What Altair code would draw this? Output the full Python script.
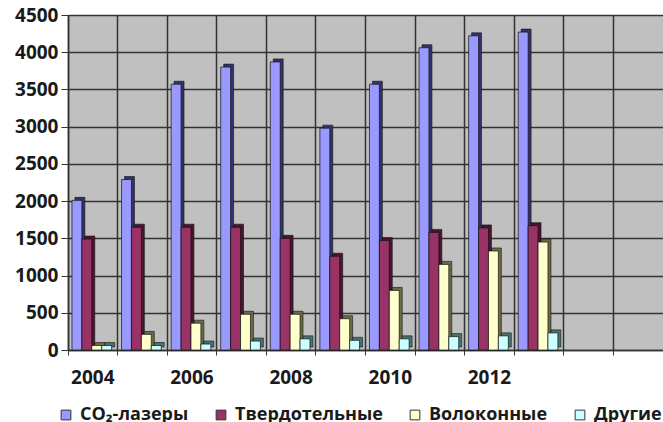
import altair as alt
import pandas as pd

years = ["2004", "2005", "2006", "2007", "2008", "2009", "2010", "2011", "2012", "2013"]
slots = years + ["2014", "2015"]
series = ["CO₂-лазеры", "Твердотельные", "Волоконные", "Другие"]
co2 = [2010, 2290, 3570, 3800, 3870, 2980, 3570, 4060, 4220, 4270]
solid = [1490, 1650, 1650, 1650, 1500, 1260, 1470, 1580, 1640, 1670]
fiber = [60, 210, 360, 480, 480, 420, 800, 1150, 1330, 1450]
other = [60, 60, 80, 120, 150, 130, 150, 180, 190, 230]

front_colors = ["#9999FF", "#993366", "#FFFFCC", "#CCFFFF"]
side_colors = ["#33336a", "#4a1530", "#6b6b45", "#4a7373"]

rows = []
for name, vals in zip(series, [co2, solid, fiber, other]):
    for y, v in zip(years, vals):
        rows.append({"year": y, "series": name, "value": v})
df = pd.DataFrame(rows)

FONT = "Open Sans"

x_enc = alt.X(
    "year:O",
    scale=alt.Scale(domain=slots, paddingInner=0, paddingOuter=0),
    axis=alt.Axis(
        title=None,
        bandPosition=0,
        labelExpr="(+datum.value % 2 == 0 && +datum.value <= 2012) ? datum.value : ''",
        labelAngle=0,
        labelFont=FONT,
        labelFontSize=19,
        labelFontWeight="bold",
        labelColor="#1a1a1a",
        labelPadding=13,
        tickSize=5,
        tickColor="#333333",
        domainColor="#333333",
        domainWidth=1.5,
        grid=True,
        gridColor="#333333",
        gridWidth=1.5,
        labelOverlap=False,
    ),
)


def xo(align):
    return alt.XOffset(
        "series:N",
        sort=series,
        scale=alt.Scale(domain=series, paddingOuter=0.5, paddingInner=0, align=align),
    )


y_enc = alt.Y(
    "value:Q",
    scale=alt.Scale(domain=[0, 4500], nice=False),
    axis=alt.Axis(
        title=None,
        values=list(range(0, 4501, 500)),
        format="d",
        labelFont=FONT,
        labelFontSize=19,
        labelFontWeight="bold",
        labelColor="#1a1a1a",
        labelPadding=3,
        tickSize=7,
        tickColor="#333333",
        domainColor="#333333",
        domainWidth=1.5,
        grid=True,
        gridColor="#333333",
        gridWidth=1.5,
    ),
)

side = alt.Chart(df).mark_bar(
    yOffset=-3, y2Offset=-3, stroke="#111111", strokeWidth=0.6
).encode(
    x=x_enc,
    xOffset=xo(0.7),
    y=y_enc,
    color=alt.Color("series:N", sort=series,
                    scale=alt.Scale(domain=series, range=side_colors), legend=None),
)

front = alt.Chart(df).mark_bar(stroke="#111111", strokeWidth=0.7).encode(
    x=x_enc,
    xOffset=xo(0.4),
    y=y_enc,
    color=alt.Color(
        "series:N",
        sort=series,
        scale=alt.Scale(domain=series, range=front_colors),
        legend=alt.Legend(
            title=None,
            orient="none",
            direction="horizontal",
            legendX=-11,
            legendY=391,
            padding=0,
            symbolType="square",
            symbolSize=95,
            symbolStrokeColor="#333333",
            symbolStrokeWidth=1,
            symbolOpacity=1,
            labelFont=FONT,
            labelFontSize=18,
            labelFontWeight="bold",
            labelColor="#1a1a1a",
            labelLimit=300,
            columnPadding=23,
            labelOffset=5,
        ),
    ),
)

chart = (
    alt.layer(side, front)
    .resolve_scale(color="independent", xOffset="independent")
    .properties(
        width=595,
        height=335,
        autosize=alt.AutoSizeParams(type="none"),
        padding={"left": 68, "top": 15, "right": 0, "bottom": 72},
        background="white",
    )
    .configure_view(fill="#C0C0C0", stroke=None)
)

chart.save("out.html", embed_options={"renderer": "svg", "actions": False})
